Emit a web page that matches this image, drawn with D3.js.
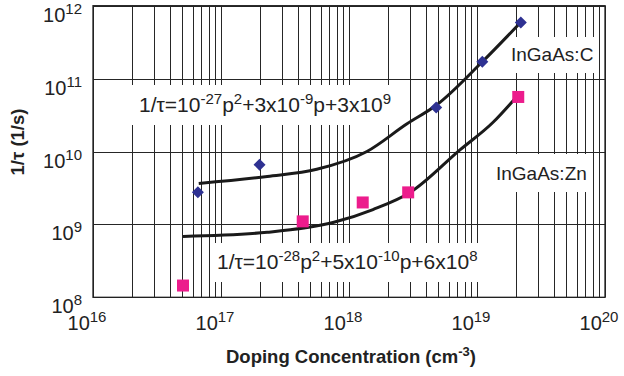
<!DOCTYPE html>
<html>
<head>
<meta charset="utf-8">
<script src="https://cdn.jsdelivr.net/npm/d3@7/dist/d3.min.js"></script>
<style>
  body { margin: 0; background: #fff; }
  svg { display: block; font-family: "Liberation Sans", Arial, sans-serif; }
</style>
</head>
<body>
<div id="chart"></div>
<script>
const cDoping = [6.6e16, 2.0e17, 4.8e18, 1.1e19, 2.2e19];
const cRate = [2.75e9, 6.6e9, 4.0e10, 1.7e11, 5.9e11];
const znDoping = [5.05e16, 4.35e17, 1.28e18, 2.9e18, 2.1e19];
const znRate = [1.45e8, 1.1e9, 2.0e9, 2.75e9, 5.6e10];

// fit curves as drawn
const cFitDoping = [6.7e16, 2.3e17, 5.6e17, 1.38e18, 2.84e18, 4.8e18, 1.1e19, 2.17e19];
const cFitRate = [3.65e9, 4.55e9, 5.7e9, 1.0e10, 2.4e10, 4.3e10, 1.7e11, 5.8e11];
const znFitDoping = [5.05e16, 2.3e17, 7.5e17, 1.54e18, 3.0e18, 7.4e18, 1.33e19, 2.05e19];
const znFitRate = [6.85e8, 7.8e8, 1.06e9, 1.6e9, 2.74e9, 1.06e10, 2.5e10, 5.7e10];

const xTickExp = [16, 17, 18, 19, 20];
const yTickExp = [8, 9, 10, 11, 12];

const width = 624, height = 376;
const margin = {top: 5.7, right: 19, bottom: 78.7, left: 93};

const svg = d3.select('#chart').append('svg')
    .attr('width', width)
    .attr('height', height);

const x = d3.scaleLog().domain([1e16, 1e20]).range([margin.left, width - margin.right]);
const y = d3.scaleLog().domain([1e8, 1e12]).range([height - margin.bottom, margin.top]);
const px = (v) => Math.round(v) + 0.5; // crisp 1px lines

// grid
const grid = svg.append('g').attr('stroke', '#262626').attr('stroke-width', 1);
grid.selectAll('.vx')
    .data(x.ticks())
    .enter().append('line')
    .attr('x1', (d) => px(x(d)))
    .attr('x2', (d) => px(x(d)))
    .attr('y1', y.range()[1])
    .attr('y2', y.range()[0]);
grid.selectAll('.hy')
    .data(yTickExp.map((e) => Math.pow(10, e)))
    .enter().append('line')
    .attr('x1', x.range()[0])
    .attr('x2', x.range()[1])
    .attr('y1', (d) => px(y(d)))
    .attr('y2', (d) => px(y(d)));

// white boxes under the annotations
const boxes = [
  {x: 131, y: 85, w: 269, h: 40},
  {x: 505, y: 37, w: 91, h: 36},
  {x: 489, y: 154, w: 102, h: 38},
  {x: 212, y: 243, w: 274, h: 39}
];
svg.selectAll('.box')
    .data(boxes)
    .enter().append('rect')
    .attr('x', (d) => d.x).attr('y', (d) => d.y)
    .attr('width', (d) => d.w).attr('height', (d) => d.h)
    .attr('fill', '#fff');

// frame
svg.append('rect')
    .attr('x', x.range()[0]).attr('y', y.range()[1])
    .attr('width', x.range()[1] - x.range()[0])
    .attr('height', y.range()[0] - y.range()[1])
    .attr('fill', 'none')
    .attr('stroke', '#222')
    .attr('stroke-width', 1.3);

// tick labels: 10 with superscript exponent
const yLab = svg.append('g').attr('fill', '#222').attr('text-anchor', 'end');
yTickExp.forEach((e) => {
  const t = yLab.append('text')
      .attr('x', 82)
      .attr('y', y(Math.pow(10, e)) + 16)
      .style('font-size', '20px');
  t.append('tspan').text('10');
  t.append('tspan').attr('dy', -8).style('font-size', '15px').text(e);
});
const xLab = svg.append('g').attr('fill', '#222').attr('text-anchor', 'middle');
xTickExp.forEach((e) => {
  const t = xLab.append('text')
      .attr('x', x(Math.pow(10, e)) - 6)
      .attr('y', y.range()[0] + 33)
      .style('font-size', '20px');
  t.append('tspan').text('10');
  t.append('tspan').attr('dy', -8).style('font-size', '15px').text(e);
});

// axis titles
const xt = svg.append('text')
    .attr('x', 351).attr('y', 363)
    .attr('text-anchor', 'middle')
    .attr('fill', '#222')
    .style('font-size', '18.5px').style('font-weight', 'bold');
xt.append('tspan').text('Doping Concentration (cm');
xt.append('tspan').attr('dy', -7).style('font-size', '13px').text('-3');
xt.append('tspan').attr('dy', 7).text(')');

svg.append('text')
    .attr('transform', 'translate(24,142) rotate(-90)')
    .attr('text-anchor', 'middle')
    .attr('fill', '#222')
    .style('font-size', '18.5px').style('font-weight', 'bold')
    .text('1/\u03c4 (1/s)');

// annotations
function richText(tx, ty, size, parts) {
  const t = svg.append('text').attr('x', tx).attr('y', ty).attr('fill', '#222')
      .style('font-size', size + 'px');
  let up = false;
  parts.forEach((p) => {
    const sup = typeof p === 'object';
    const s = t.append('tspan').text(sup ? p.s : p);
    if (sup && !up) { s.attr('dy', -8).style('font-size', Math.round(size * 0.7) + 'px'); up = true; }
    else if (!sup && up) { s.attr('dy', 8); up = false; }
  });
}
richText(139, 112, 21, ['1/\u03c4=10', {s: '-27'}, 'p', {s: '2'}, '+3x10', {s: '-9'}, 'p+3x10', {s: '9'}]);
richText(217, 269, 21, ['1/\u03c4=10', {s: '-28'}, 'p', {s: '2'}, '+5x10', {s: '-10'}, 'p+6x10', {s: '8'}]);
svg.append('text').attr('x', 511).attr('y', 61).attr('fill', '#222')
    .style('font-size', '19px').text('InGaAs:C');
svg.append('text').attr('x', 496).attr('y', 180).attr('fill', '#222')
    .style('font-size', '19px').text('InGaAs:Zn');

// fit curves
const line = d3.line()
    .x((d) => x(d[0]))
    .y((d) => y(d[1]))
    .curve(d3.curveMonotoneX);
[[cFitDoping, cFitRate], [znFitDoping, znFitRate]].forEach(([fx, fy]) => {
  svg.append('path')
      .attr('fill', 'none')
      .attr('stroke', '#1a1a1a')
      .attr('stroke-width', 3)
      .attr('d', line(d3.zip(fx, fy)));
});

// markers
svg.selectAll('.c')
    .data(d3.zip(cDoping, cRate))
    .enter().append('path')
    .attr('d', d3.symbol(d3.symbolSquare, 72))
    .attr('transform', (d) => 'translate(' + x(d[0]) + ',' + y(d[1]) + ') rotate(45)')
    .attr('fill', '#2e3192');
svg.selectAll('.zn')
    .data(d3.zip(znDoping, znRate))
    .enter().append('path')
    .attr('d', d3.symbol(d3.symbolSquare, 144))
    .attr('transform', (d) => 'translate(' + x(d[0]) + ',' + y(d[1]) + ')')
    .attr('fill', '#ec1c8c');
</script>
</body>
</html>
